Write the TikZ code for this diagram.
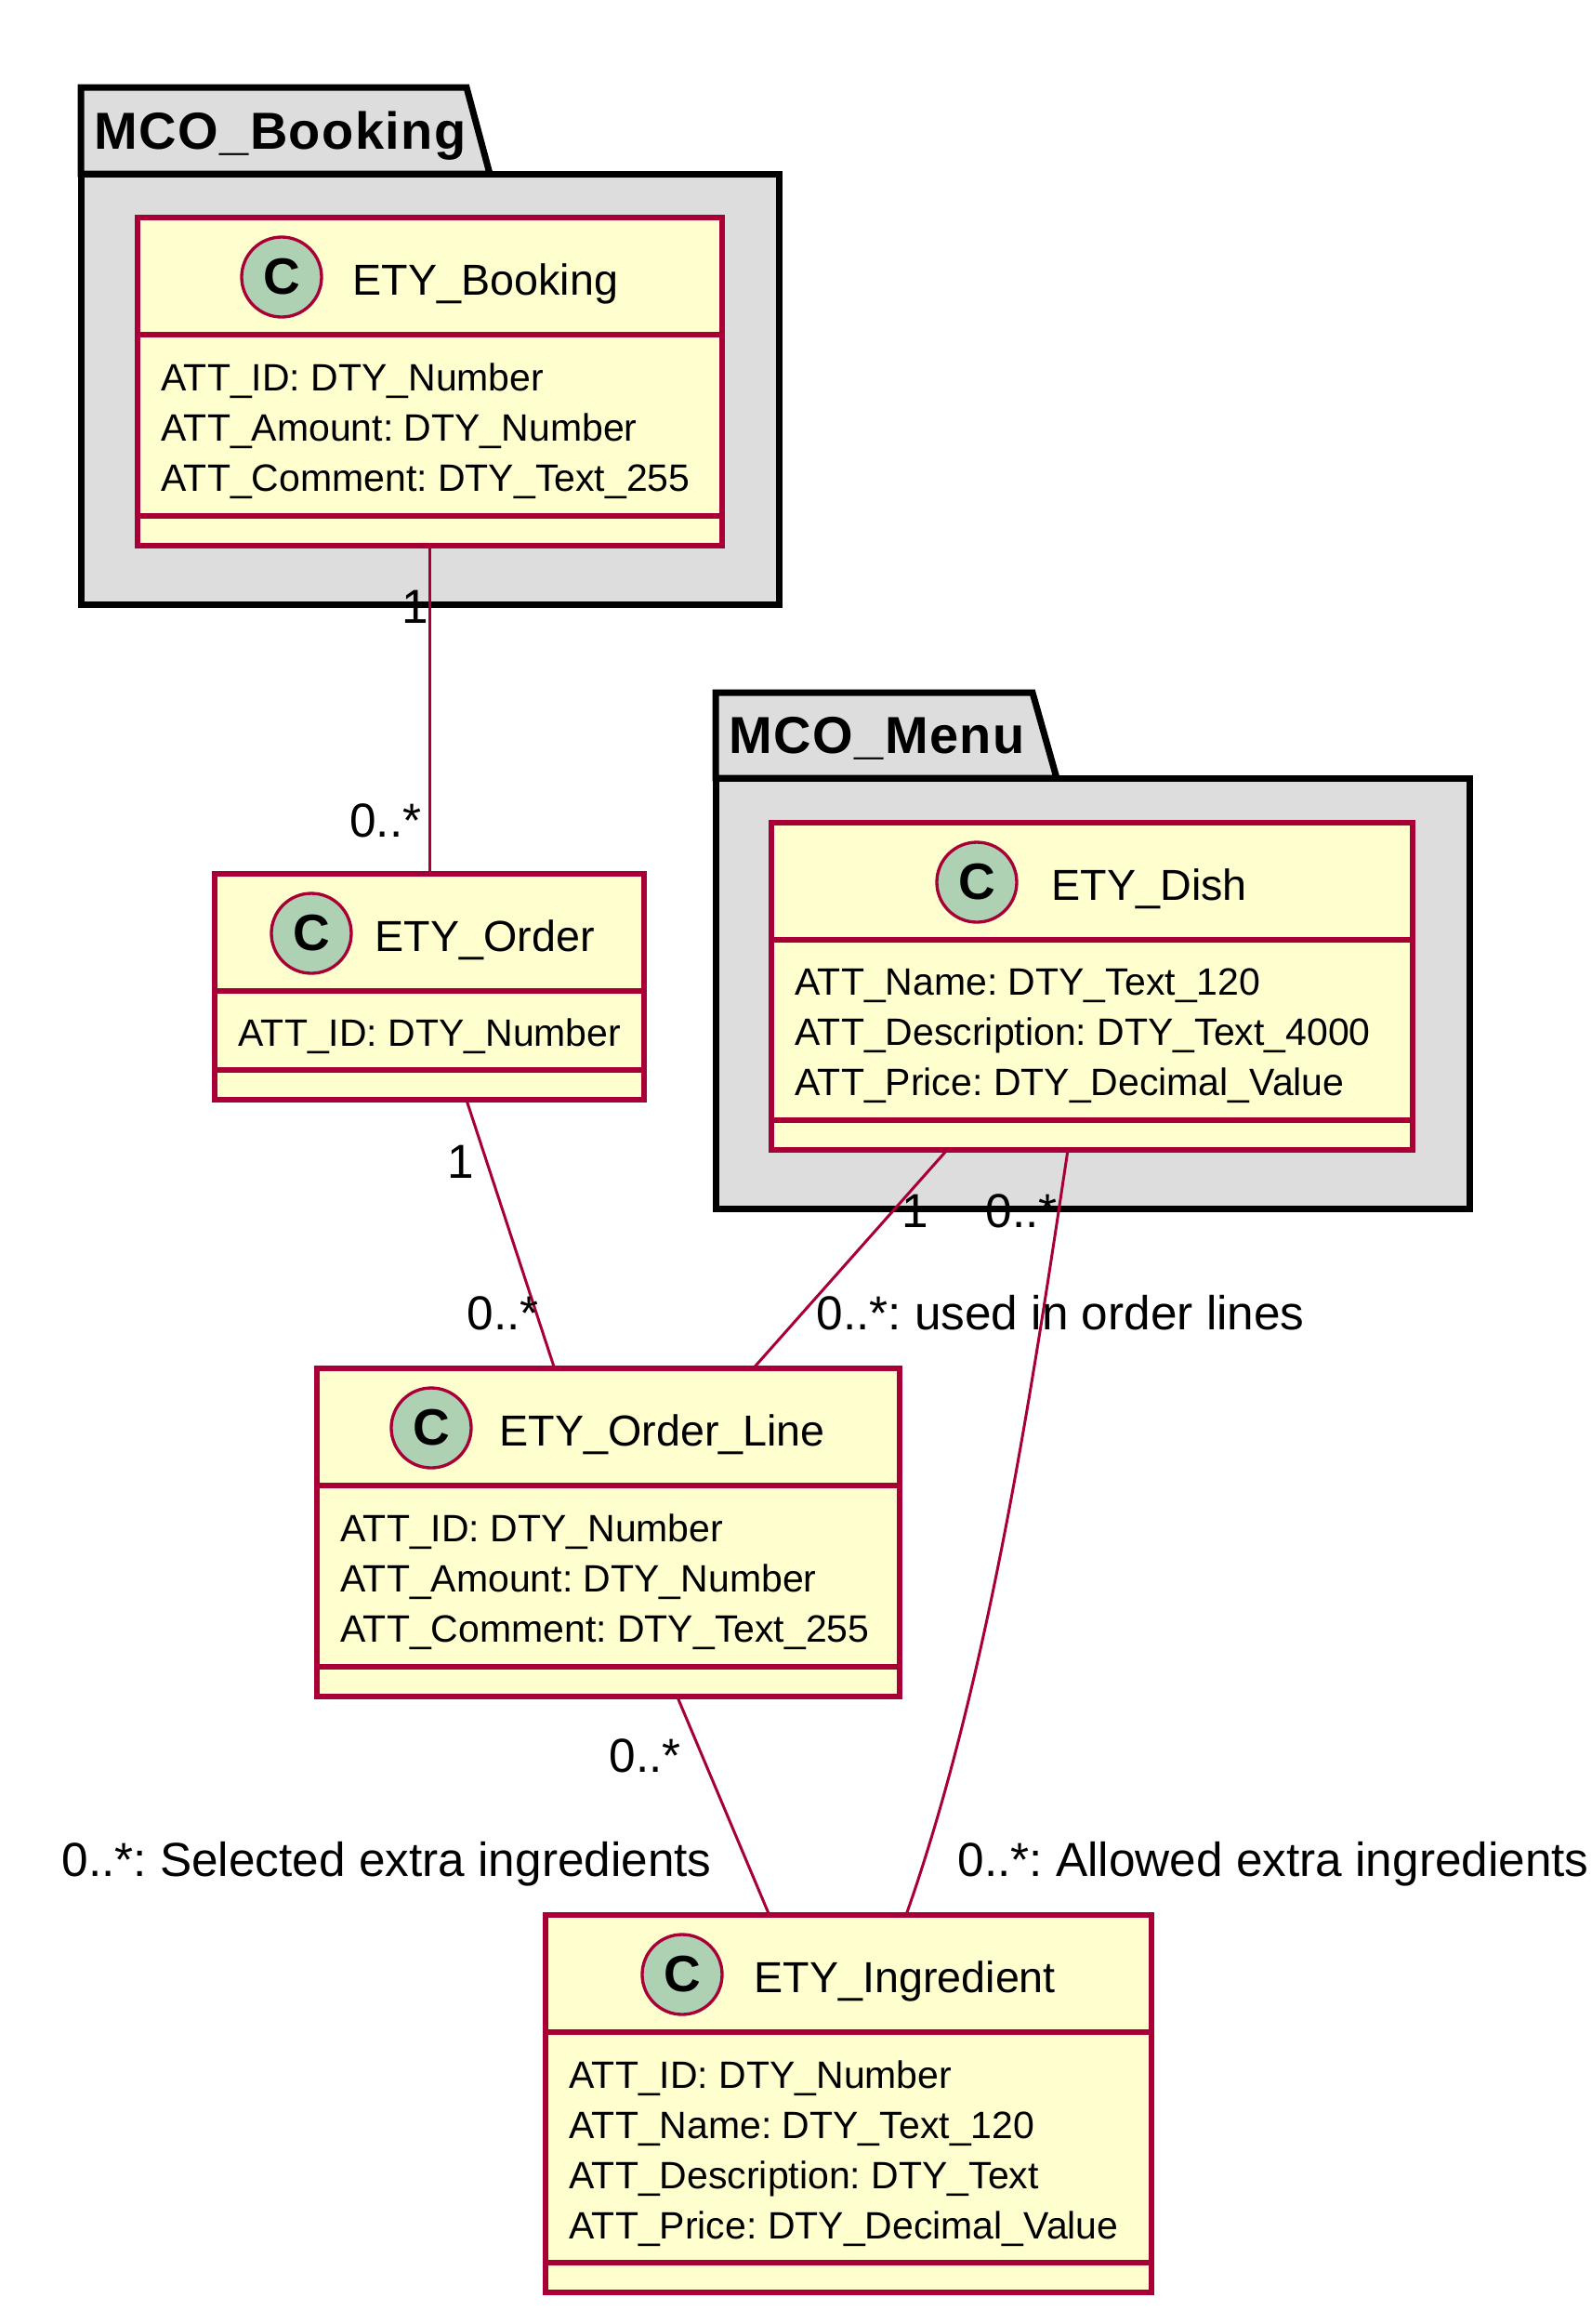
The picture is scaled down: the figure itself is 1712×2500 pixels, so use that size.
\documentclass[tikz,border=0pt]{standalone}
\usepackage{fontspec}
\setmainfont{Liberation Sans}
\usetikzlibrary{calc}
\definecolor{umlred}{HTML}{A80036}
\definecolor{umlfill}{HTML}{FEFECE}
\definecolor{umlcirc}{HTML}{ADD1B2}
\definecolor{pkgfill}{HTML}{DDDDDD}
\frenchspacing
\tikzset{
  classbox/.style={draw=umlred, fill=umlfill, line width=1.6pt, rectangle, inner sep=0pt, outer sep=0pt, anchor=north west},
  sepline/.style={draw=umlred, line width=1.6pt},
  pkgline/.style={draw=black, fill=pkgfill, line width=2.1pt, line join=miter},
  assoc/.style={draw=umlred, line width=0.9pt},
  cname/.style={font=\fontsize{14}{17}\selectfont, inner sep=0pt, anchor=base west},
  attr/.style={font=\fontsize{12.3}{15}\selectfont, inner sep=0pt, anchor=base west},
  mult/.style={font=\fontsize{15.4}{18}\selectfont, inner sep=0pt},
  pkgtitle/.style={font=\fontsize{16.8}{20}\selectfont\bfseries\addfontfeature{LetterSpace=2.5}, inner sep=0pt, anchor=base west},
  cbadge/.style={circle, draw=umlred, fill=umlcirc, line width=1pt, minimum size=25.8pt, inner sep=0pt, font=\fontsize{16.5}{18}\selectfont\bfseries},
}
\begin{document}
\begin{tikzpicture}[x=0.3pt, y=-0.3pt]
\useasboundingbox[fill=white] (0,0) rectangle (1712,2500);

% ---------- packages ----------
\draw[pkgline] (87,187) -- (87,94) -- (502,94) -- (527,187) -- cycle;
\draw[pkgline] (87,187) rectangle (838,650);
\node[pkgtitle] (pbooking) at (101,160) {MCO\_Booking};

\draw[pkgline] (770,837) -- (770,745) -- (1111,745) -- (1137,837) -- cycle;
\draw[pkgline] (770,837) rectangle (1581,1300);
\node[pkgtitle] (pmenu) at (784,810) {MCO\_Menu};

% ---------- ETY_Booking ----------
\node[classbox, minimum width=629*0.3pt, minimum height=353*0.3pt] (b) at (148,234) {};
\draw[sepline] ($(b.north west)+(0,126)$) -- ($(b.north east)+(0,126)$);
\draw[sepline] ($(b.south west)+(0,-32)$) -- ($(b.south east)+(0,-32)$);
\node[cbadge] (bc) at (303,298) {C};
\node[cname] (bn) at (379,317) {ETY\_Booking};
\node[attr] (b1) at (173,420) {ATT\_ID: DTY\_Number};
\node[attr] (b2) at (173,474) {ATT\_Amount: DTY\_Number};
\node[attr] (b3) at (173,528) {ATT\_Comment: DTY\_Text\_255};

% ---------- ETY_Order ----------
\node[classbox, minimum width=462*0.3pt, minimum height=243*0.3pt] (o) at (231,940) {};
\draw[sepline] ($(o.north west)+(0,126)$) -- ($(o.north east)+(0,126)$);
\draw[sepline] ($(o.south west)+(0,-32)$) -- ($(o.south east)+(0,-32)$);
\node[cbadge] (oc) at (335,1004) {C};
\node[cname] (on) at (403,1023) {ETY\_Order};
\node[attr] (o1) at (256,1125) {ATT\_ID: DTY\_Number};

% ---------- ETY_Dish ----------
\node[classbox, minimum width=690*0.3pt, minimum height=352*0.3pt] (d) at (830,885) {};
\draw[sepline] ($(d.north west)+(0,126)$) -- ($(d.north east)+(0,126)$);
\draw[sepline] ($(d.south west)+(0,-32)$) -- ($(d.south east)+(0,-32)$);
\node[cbadge] (dc) at (1051,949) {C};
\node[cname] (dn) at (1131,968) {ETY\_Dish};
\node[attr] (d1) at (855,1070) {ATT\_Name: DTY\_Text\_120};
\node[attr] (d2) at (855,1124) {ATT\_Description: DTY\_Text\_4000};
\node[attr] (d3) at (855,1178) {ATT\_Price: DTY\_Decimal\_Value};

% ---------- ETY_Order_Line ----------
\node[classbox, minimum width=627*0.3pt, minimum height=353*0.3pt] (ol) at (341,1472) {};
\draw[sepline] ($(ol.north west)+(0,126)$) -- ($(ol.north east)+(0,126)$);
\draw[sepline] ($(ol.south west)+(0,-32)$) -- ($(ol.south east)+(0,-32)$);
\node[cbadge] (olc) at (464,1536) {C};
\node[cname] (oln) at (537,1555) {ETY\_Order\_Line};
\node[attr] (ol1) at (366,1658) {ATT\_ID: DTY\_Number};
\node[attr] (ol2) at (366,1712) {ATT\_Amount: DTY\_Number};
\node[attr] (ol3) at (366,1766) {ATT\_Comment: DTY\_Text\_255};

% ---------- ETY_Ingredient ----------
\node[classbox, minimum width=652*0.3pt, minimum height=406*0.3pt] (ing) at (587,2060) {};
\draw[sepline] ($(ing.north west)+(0,126)$) -- ($(ing.north east)+(0,126)$);
\draw[sepline] ($(ing.south west)+(0,-32)$) -- ($(ing.south east)+(0,-32)$);
\node[cbadge] (ingc) at (734,2124) {C};
\node[cname] (ingn) at (811,2143) {ETY\_Ingredient};
\node[attr] (ing1) at (612,2246) {ATT\_ID: DTY\_Number};
\node[attr] (ing2) at (612,2300) {ATT\_Name: DTY\_Text\_120};
\node[attr] (ing3) at (612,2354) {ATT\_Description: DTY\_Text};
\node[attr] (ing4) at (612,2408) {ATT\_Price: DTY\_Decimal\_Value};

% ---------- associations ----------
\draw[assoc] (b.south) -- (b.south |- o.north);
\draw[assoc] (o) -- (ol);
\draw[assoc] (d) -- (ol);
\draw[assoc] (ol) -- (ing);
\draw[assoc] ($(d.south)+(-26,0)$) .. controls ($(d.south)+(-65,260)$) and ($(ing.north)+(150,-250)$) .. ($(ing.north)+(62,0)$);

% ---------- multiplicities ----------
\node[mult, anchor=base] (m1) at (447,670) {1};
\node[mult, anchor=base east] (m2) at (454,900) {0..*};
\node[mult, anchor=base] (m3) at (496,1267) {1};
\node[mult, anchor=base west] (m4) at (502,1430) {0..*};
\node[mult, anchor=base] (m5) at (985,1320) {1};
\node[mult, anchor=base west] (m6) at (1060,1320) {0..*};
\node[mult, anchor=base west] (m7) at (878,1430) {0..*: used in order lines};
\node[mult, anchor=base west] (m8) at (655,1906) {0..*};
\node[mult, anchor=base west] (m9) at (66,2018) {0..*: Selected extra ingredients};
\node[mult, anchor=base west] (m10) at (1030,2018) {0..*: Allowed extra ingredients};
\end{tikzpicture}
\end{document}
